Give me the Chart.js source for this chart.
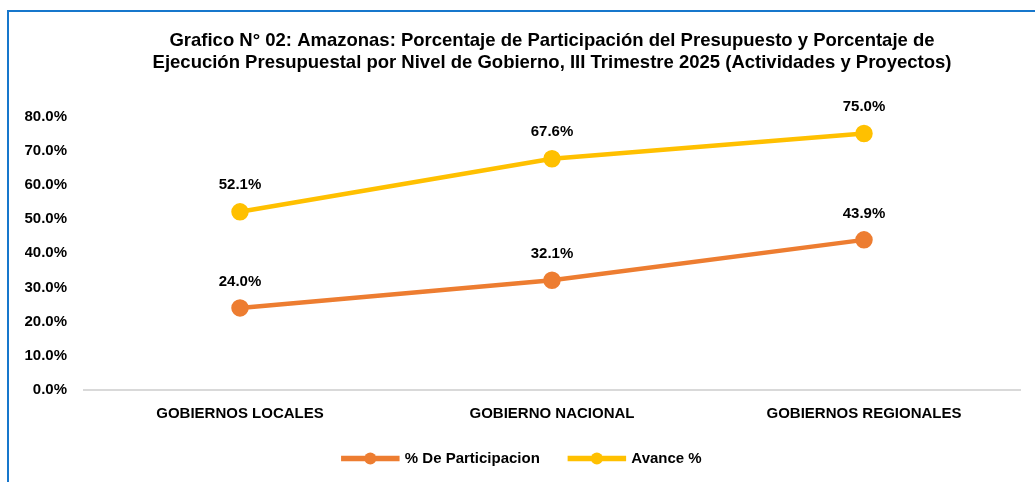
<!DOCTYPE html>
<html lang="es">
  <head>
    <meta charset="UTF-8" />
    <title>Grafico N° 02 Amazonas</title>
    <script src="https://cdn.jsdelivr.net/npm/chart.js"></script>
    <style>
      body {
        margin: 0;
        background: #ffffff;
        overflow: hidden;
      }
      .frame {
        position: absolute;
        left: 7px;
        top: 10px;
        width: 1100px;
        height: 600px;
        border-top: 2px solid #1777cc;
        border-left: 2px solid #1777cc;
      }
      .chart-container {
        position: absolute;
        left: 0;
        top: 0;
        width: 1035px;
        height: 482px;
      }
    </style>
  </head>
  <body>
    <div class="frame"></div>
    <div class="chart-container"><canvas id="chart"></canvas></div>

    <script>
      const categories = [
        "GOBIERNOS LOCALES",
        "GOBIERNO NACIONAL",
        "GOBIERNOS REGIONALES",
      ];
      const participacion = [24.0, 32.1, 43.9];
      const avance = [52.1, 67.6, 75.0];
      const titleLines = [
        "Grafico N° 02: Amazonas: Porcentaje de Participación del Presupuesto y Porcentaje de",
        "Ejecución Presupuestal por Nivel de Gobierno, III Trimestre 2025 (Actividades y Proyectos)",
      ];

      const FONT = "'Liberation Sans', Arial, sans-serif";

      // value labels above each point
      const valueLabels = {
        id: "valueLabels",
        afterDatasetsDraw(chart) {
          const ctx = chart.ctx;
          ctx.save();
          ctx.font = "bold 15px " + FONT;
          ctx.fillStyle = "#000";
          ctx.textAlign = "center";
          ctx.textBaseline = "bottom";
          chart.data.datasets.forEach((ds, i) => {
            chart.getDatasetMeta(i).data.forEach((pt, j) => {
              ctx.fillText(ds.data[j].toFixed(1) + "%", pt.x, pt.y - 19);
            });
          });
          ctx.restore();
        },
      };

      // dot in the middle of the legend line
      const legendDots = {
        id: "legendDots",
        afterDraw(chart) {
          const legend = chart.legend;
          if (!legend || !legend.legendHitBoxes) return;
          const ctx = chart.ctx;
          const bw = legend.options.labels.boxWidth;
          legend.legendHitBoxes.forEach((box, i) => {
            ctx.save();
            ctx.fillStyle = chart.data.datasets[i].borderColor;
            ctx.beginPath();
            ctx.arc(box.left + bw / 2, box.top + box.height / 2, 6, 0, Math.PI * 2);
            ctx.fill();
            ctx.restore();
          });
        },
      };

      new Chart(document.getElementById("chart"), {
        type: "line",
        data: {
          labels: categories,
          datasets: [
            {
              label: "% De Participacion",
              data: participacion,
              borderColor: "#ed7d31",
              backgroundColor: "#ed7d31",
              borderWidth: 4.5,
              pointRadius: 6.5,
              pointHoverRadius: 6.5,
              fill: false,
            },
            {
              label: "Avance %",
              data: avance,
              borderColor: "#ffc000",
              backgroundColor: "#ffc000",
              borderWidth: 4.5,
              pointRadius: 6.5,
              pointHoverRadius: 6.5,
              fill: false,
            },
          ],
        },
        options: {
          responsive: true,
          maintainAspectRatio: false,
          animation: false,
          layout: {
            padding: { left: 25, right: 15, top: 0, bottom: 6 },
          },
          plugins: {
            tooltip: { enabled: false },
            title: {
              display: true,
              fullSize: false,
              text: titleLines,
              color: "#000",
              font: { family: FONT, size: 18.5, weight: "bold", lineHeight: 1.2 },
              padding: { top: 30, bottom: 42 },
            },
            legend: {
              position: "bottom",
              labels: {
                color: "#000",
                font: { family: FONT, size: 15, weight: "bold" },
                boxWidth: 54,
                boxHeight: 1,
                padding: 30,
              },
            },
          },
          scales: {
            x: {
              offset: true,
              grid: { display: false, drawTicks: false },
              border: { display: true, color: "#d9d9d9", width: 2 },
              ticks: {
                color: "#000",
                padding: 15,
                font: { family: FONT, size: 15, weight: "bold" },
              },
              afterFit: (scale) => {
                scale.height = 31;
              },
            },
            y: {
              min: 0,
              max: 80,
              grid: { display: false, drawTicks: false },
              border: { display: false },
              ticks: {
                stepSize: 10,
                color: "#000",
                padding: 17,
                font: { family: FONT, size: 15, weight: "bold" },
                callback: (v) => v.toFixed(1) + "%",
              },
              afterFit: (scale) => {
                scale.width = 59;
              },
            },
          },
        },
        plugins: [valueLabels, legendDots],
      });
    </script>
  </body>
</html>
